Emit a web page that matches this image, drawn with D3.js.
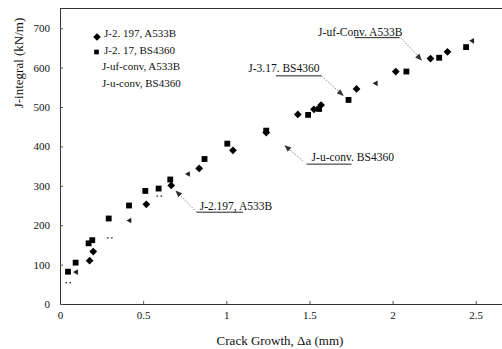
<!DOCTYPE html>
<html>
<head>
<meta charset="utf-8">
<script src="https://cdn.jsdelivr.net/npm/d3@7"></script>
<style>
	body { margin: 0; background: #fff; }
	svg text { font-family: "Liberation Serif", "Times New Roman", serif; fill: #111; }
	.leader { stroke: #666; stroke-width: 0.8; stroke-dasharray: 1.5 1.5; fill: none; }
</style>
</head>
<body>
<svg id="chart" width="502" height="349"></svg>
<script>
// J-2.197, A533B (diamonds)
const diaX = [0.178, 0.2, 0.519, 0.669, 0.837, 1.04, 1.24, 1.43, 1.527, 1.57, 1.783, 2.019, 2.228, 2.33];
const diaJ = [110, 133, 253, 301, 344, 390, 435, 481, 494, 505, 546, 590, 623, 640];
// J-2.17, BS4360 (squares)
const sqX = [0.048, 0.094, 0.172, 0.194, 0.293, 0.415, 0.513, 0.593, 0.663, 0.869, 1.006, 1.24, 1.492, 1.558, 1.735, 2.083, 2.28, 2.442];
const sqJ = [82, 105, 154, 162, 217, 250, 287, 293, 316, 368, 407, 440, 480, 495, 518, 590, 625, 652];
// J-uf-conv, A533B (small marks)
const ufX = [0.098, 0.419, 0.771, 1.90, 2.48];
const ufJ = [81, 212, 330, 560, 668];
// J-u-conv, BS4360 (faint dots)
const uX = [0.05, 0.30, 0.597];
const uJ = [54, 168, 274];

const legendLabels = ['J-2. 197, A533B', 'J-2. 17, BS4360', 'J-uf-conv, A533B', 'J-u-conv, BS4360'];
const xTicks = [0, 0.5, 1, 1.5, 2, 2.5];
const yTicks = [0, 100, 200, 300, 400, 500, 600, 700];

// callouts: text, text start (x, J), underline x1..x2 at J, leader from -> to
const notes = [
	{text: 'J-2.197, A533B', tx: 0.84, tj: 239, ux: [0.822, 1.10], uj: 233, from: [0.822, 233], to: [0.697, 287]},
	{text: 'J-u-conv. BS4360', tx: 1.513, tj: 364, ux: [1.483, 1.753], uj: 355, from: [1.46, 363], to: [1.352, 402]},
	{text: 'J-3.17. BS4360', tx: 1.132, tj: 589, ux: [1.298, 1.573], uj: 579, from: [1.573, 579], to: [1.703, 529]},
	{text: 'J-uf-Conv. A533B', tx: 1.552, tj: 680, ux: [1.773, 2.043], uj: 676, from: [2.053, 674], to: [2.174, 619]}
];

const serif = '"Liberation Serif", "Times New Roman", serif';
const svg = d3.select('#chart');
const x = d3.scaleLinear().domain([0, 2.7]).range([60, 509]);
const y = d3.scaleLinear().domain([0, 750]).range([304, 8.5]);

// frame
svg.append('line').attr('x1', 60).attr('x2', 502).attr('y1', y(750)).attr('y2', y(750))
	.attr('stroke', '#333').attr('stroke-width', 1);

let xAxis = svg.append('g').attr('transform', 'translate(0,' + y(0) + ')')
	.call(d3.axisBottom(x).tickValues(xTicks).tickSizeInner(-3).tickSizeOuter(0).tickPadding(7)
		.tickFormat((d) => d));
xAxis.attr('font-family', null);
xAxis.select('.domain').attr('stroke', '#333');
xAxis.selectAll('.tick line').attr('stroke', '#555');
xAxis.selectAll('text').style('font-size', '11px').style('font-family', serif);

let yAxis = svg.append('g').attr('transform', 'translate(60,0)')
	.call(d3.axisLeft(y).tickValues(yTicks).tickSizeInner(-3).tickSizeOuter(0).tickPadding(10));
yAxis.attr('font-family', null);
yAxis.select('.domain').attr('stroke', '#333');
yAxis.selectAll('.tick line').attr('stroke', '#555');
yAxis.selectAll('text').style('font-size', '11px').style('font-family', serif);

// axis titles
svg.append('text')
	.attr('transform', 'translate(23,63) rotate(-90)')
	.attr('text-anchor', 'middle')
	.attr('font-size', 13)
	.text('J-integral (kN/m)');
svg.append('text')
	.attr('x', 280).attr('y', 345)
	.attr('text-anchor', 'middle')
	.attr('font-size', 13)
	.text('Crack Growth, \u0394a (mm)');

// markers
const diamond = d3.symbol().type(d3.symbolSquare).size(30);
const square = d3.symbol().type(d3.symbolSquare).size(34);
const tri = d3.symbol().type(d3.symbolTriangle).size(14);

svg.append('g').selectAll('path').data(d3.range(diaX.length)).enter().append('path')
	.attr('d', diamond)
	.attr('transform', (i) => 'translate(' + x(diaX[i]) + ',' + y(diaJ[i]) + ') rotate(45)')
	.attr('fill', '#000');

svg.append('g').selectAll('path').data(d3.range(sqX.length)).enter().append('path')
	.attr('d', square)
	.attr('transform', (i) => 'translate(' + x(sqX[i]) + ',' + y(sqJ[i]) + ')')
	.attr('fill', '#000');

svg.append('g').selectAll('path').data(d3.range(ufX.length)).enter().append('path')
	.attr('d', tri)
	.attr('transform', (i) => 'translate(' + x(ufX[i]) + ',' + y(ufJ[i]) + ') rotate(-90)')
	.attr('fill', '#222');

let uDots = svg.append('g').selectAll('g').data(d3.range(uX.length)).enter().append('g')
	.attr('transform', (i) => 'translate(' + x(uX[i]) + ',' + y(uJ[i]) + ')');
uDots.append('circle').attr('cx', -2).attr('r', 0.9).attr('fill', '#444');
uDots.append('circle').attr('cx', 2).attr('r', 0.9).attr('fill', '#444');

// legend
let legend = svg.append('g').attr('class', 'legend');
legend.selectAll('text').data(legendLabels).enter().append('text')
	.attr('x', (d, i) => i < 2 ? 104 : 102)
	.attr('y', (d, i) => 37 + i * 16.6)
	.attr('font-size', 11)
	.text((d) => d);
legend.append('path').attr('d', diamond).attr('transform', 'translate(97,37) rotate(45)').attr('fill', '#000');
legend.append('path').attr('d', d3.symbol().type(d3.symbolSquare).size(22)).attr('transform', 'translate(96.5,52)').attr('fill', '#000');

// callouts
svg.append('defs').append('marker')
	.attr('id', 'arrow').attr('viewBox', '0 0 10 10')
	.attr('refX', 9).attr('refY', 5)
	.attr('markerWidth', 7).attr('markerHeight', 7)
	.attr('markerUnits', 'userSpaceOnUse')
	.attr('orient', 'auto')
	.append('path').attr('d', 'M0,1 L10,5 L0,9 Z').attr('fill', '#333');

let callouts = svg.append('g').selectAll('g').data(notes).enter().append('g');
callouts.append('text')
	.attr('x', (d) => x(d.tx)).attr('y', (d) => y(d.tj))
	.attr('font-size', 11.5)
	.text((d) => d.text);
callouts.append('line')
	.attr('x1', (d) => x(d.ux[0])).attr('x2', (d) => x(d.ux[1]))
	.attr('y1', (d) => y(d.uj)).attr('y2', (d) => y(d.uj))
	.attr('stroke', '#222').attr('stroke-width', 1);
callouts.append('line')
	.attr('class', 'leader')
	.attr('x1', (d) => x(d.from[0])).attr('y1', (d) => y(d.from[1]))
	.attr('x2', (d) => x(d.to[0])).attr('y2', (d) => y(d.to[1]))
	.attr('marker-end', 'url(#arrow)');
</script>
</body>
</html>
